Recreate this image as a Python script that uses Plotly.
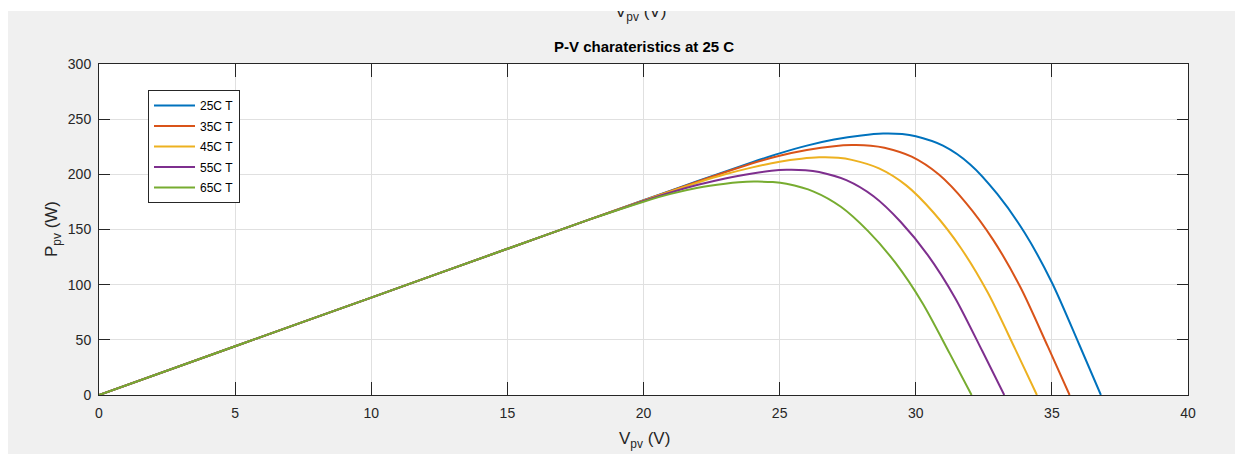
import plotly.graph_objects as go

# ---- data ----
labels = ["25C T", "35C T", "45C T", "55C T", "65C T"]
colors = ["#0072BD", "#D95319", "#EDB120", "#7E2F8E", "#77AC30"]

v_common = [0, 5, 10, 15, 18]
p_common = [0, 44.2, 88.3, 132.5, 158.9]

v_25 = [20, 22, 24, 25, 26, 27, 28, 28.8, 29.5, 30, 31, 32, 33, 34, 35, 36, 36.8]
p_25 = [176.5, 194, 211, 219, 226, 231.5, 235.3, 237, 236.5, 234.5, 226, 209, 182, 147, 102, 46, 0]

v_35 = [20, 22, 24, 25, 26, 27, 27.65, 28.35, 28.85, 29.85, 30.85, 31.85, 32.85, 33.85, 34.85, 35.65]
p_35 = [176.4, 193.5, 210, 216.8, 222, 225.5, 226.5, 226, 224.1, 216, 199.8, 174, 140.4, 97.4, 44, 0]

v_45 = [20, 22, 23, 24, 25, 25.8, 26.45, 27.15, 27.65, 28.65, 29.65, 30.65, 31.65, 32.65, 33.65, 34.45]
p_45 = [176.2, 192.6, 200, 206.3, 211.5, 214.2, 215.4, 215, 213.1, 205.4, 190, 165.4, 133.5, 92.6, 41.8, 0]

v_55 = [20, 21, 22, 23, 24, 24.7, 25.25, 25.95, 26.45, 27.45, 28.45, 29.45, 30.45, 31.45, 32.45, 33.25]
p_55 = [175.8, 183.6, 190.5, 196.3, 200.8, 203.3, 204.2, 203.8, 202.1, 194.7, 180.1, 156.8, 126.6, 87.8, 39.6, 0]

v_65 = [20, 21, 22, 23, 23.5, 24.05, 24.75, 25.25, 26.25, 27.25, 28.25, 29.25, 30.25, 31.25, 32.05]
p_65 = [175.2, 182.3, 187.8, 191.5, 192.8, 193.4, 193, 191.4, 184.4, 170.6, 148.5, 119.9, 83.2, 37.5, 0]

x_ticks = [0, 5, 10, 15, 20, 25, 30, 35, 40]
y_ticks = [0, 50, 100, 150, 200, 250, 300]

series_v = [v_25, v_35, v_45, v_55, v_65]
series_p = [p_25, p_35, p_45, p_55, p_65]

# ---- figure (figure pixel coordinates; page shows it offset by the body margin) ----
W, H = 1243, 454
L, R, T, B = 91, 63, 56, 67
PW, PH = W - L - R, H - T - B


def px_x(px):
    return (px - L) / PW


def px_y(py):
    return (H - B - py) / PH


FONT = "Liberation Sans, Arial, Helvetica, sans-serif"
AX = "#262626"

fig = go.Figure()
for i in range(5):
    fig.add_trace(go.Scatter(
        x=v_common + series_v[i], y=p_common + series_p[i],
        mode="lines", name=labels[i], legendgroup=labels[i],
        line=dict(color=colors[i], width=2, shape="spline", smoothing=0.8),
    ))

axis_common = dict(
    showline=True, linecolor=AX, linewidth=1, mirror="ticks",
    ticks="inside", tickcolor=AX, tickwidth=1,
    showgrid=True, gridcolor="#e0e0e0", gridwidth=1, zeroline=False,
    tickfont=dict(family=FONT, size=14, color=AX),
)

fig.update_xaxes(range=[0, 40], tickvals=x_ticks, ticklen=13, ticklabelstandoff=5, **axis_common)
fig.update_yaxes(range=[0, 300], tickvals=y_ticks, ticklen=11, ticklabelstandoff=4, **axis_common)

annotations = [
    dict(text="<b>P-V charateristics at 25 C</b>", x=0.5, y=px_y(38), xref="paper", yref="paper",
         xanchor="center", yanchor="middle", showarrow=False,
         font=dict(family=FONT, size=15, color="#000000")),
    dict(text="V<sub>pv</sub> (V)", x=px_x(636), y=px_y(419), xref="paper", yref="paper",
         xanchor="center", yanchor="top", showarrow=False,
         font=dict(family=FONT, size=17, color=AX)),
    dict(text="P<sub>pv</sub> (W)", x=px_x(45), y=px_y(221), xref="paper", yref="paper",
         xanchor="center", yanchor="middle", showarrow=False, textangle=-90,
         font=dict(family=FONT, size=17, color=AX)),
    # cut-off x-label of a figure above
    dict(text="V<sub>pv</sub> (V)", x=px_x(632), y=px_y(-8), xref="paper", yref="paper",
         xanchor="center", yanchor="top", showarrow=False,
         font=dict(family=FONT, size=17, color=AX)),
    # thin white page strip at the top
    dict(text=" ", x=px_x(0), y=px_y(0), xref="paper", yref="paper",
         xanchor="left", yanchor="top", showarrow=False, width=W, height=3,
         bgcolor="#ffffff", borderpad=0, borderwidth=0),
]

fig.update_layout(
    width=W, height=H, autosize=False,
    margin=dict(l=L, r=R, t=T, b=B, pad=0),
    paper_bgcolor="#f0f0f0", plot_bgcolor="#ffffff",
    font=dict(family=FONT, color=AX),
    showlegend=True,
    legend=dict(x=px_x(140), y=px_y(82), xanchor="left", yanchor="top",
                bgcolor="#ffffff", bordercolor=AX, borderwidth=1,
                font=dict(family=FONT, size=12, color="#000000"),
                tracegroupgap=1.5, itemwidth=41),
    annotations=annotations,
)

fig.write_html("out.html")
